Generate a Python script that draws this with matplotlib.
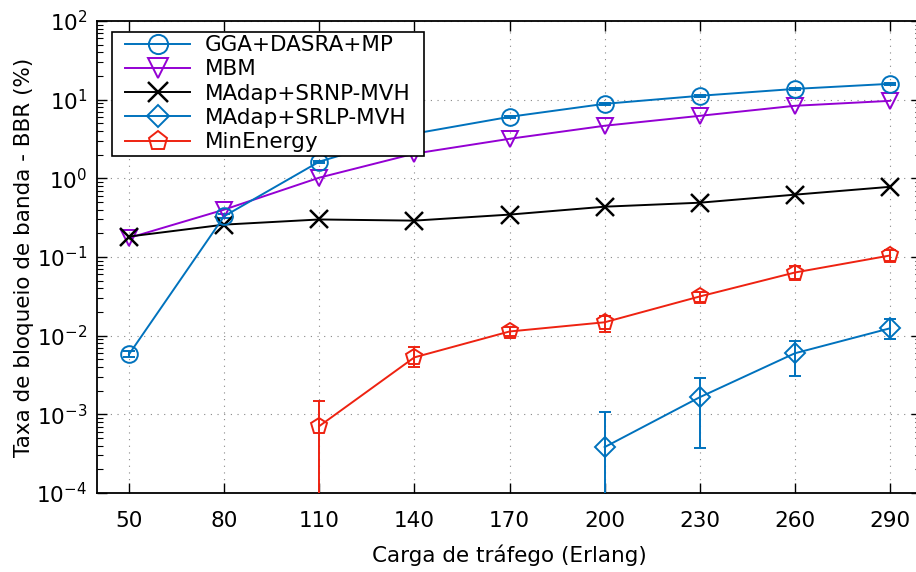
import numpy as np
import matplotlib
matplotlib.use("Agg")
import matplotlib.pyplot as plt
from matplotlib.lines import Line2D
from matplotlib.patches import Rectangle
from matplotlib.legend_handler import HandlerLine2D
from matplotlib.ticker import LogLocator, FixedLocator, NullFormatter

# Traffic load (Erlang)
load = [50, 80, 110, 140, 170, 200, 230, 260, 290]

# Bandwidth blocking ratio (%) per algorithm
gga = [0.0058, 0.33, 1.63, 3.7, 6.05, 8.85, 11.2, 13.7, 15.9]
gga_lo = [0.0053, 0.31, 1.58, 3.6, 5.9, 8.6, 10.9, 13.3, 15.5]
gga_hi = [0.0064, 0.35, 1.68, 3.8, 6.2, 9.1, 11.5, 14.1, 16.3]

mbm = [0.175, 0.40, 1.02, 2.06, 3.18, 4.66, 6.23, 8.36, 9.66]

srnp = [0.182, 0.258, 0.30, 0.29, 0.346, 0.436, 0.49, 0.62, 0.78]

srlp_load = [200, 230, 260, 290]
srlp = [3.83e-4, 1.65e-3, 5.97e-3, 0.0124]
srlp_lo = [1e-6, 3.7e-4, 3.05e-3, 0.0092]
srlp_hi = [1.06e-3, 2.88e-3, 8.5e-3, 0.0161]

minen_load = [110, 140, 170, 200, 230, 260, 290]
minen = [7.08e-4, 5.3e-3, 0.0113, 0.0148, 0.0315, 0.0635, 0.1045]
minen_lo = [1e-6, 3.98e-3, 0.0098, 0.011, 0.027, 0.053, 0.09]
minen_hi = [1.47e-3, 7.1e-3, 0.0128, 0.0176, 0.036, 0.076, 0.122]

labels = ["GGA+DASRA+MP", "MBM", "MAdap+SRNP-MVH", "MAdap+SRLP-MVH", "MinEnergy"]

BLUE = "#0072BD"
PURPLE = "#9400D3"
RED = "#EE2211"
BLACK = "#000000"

plt.rcParams["font.family"] = ["DejaVu Sans"]
plt.rcParams["mathtext.fontset"] = "dejavusans"

FS = 15.5
W, H = 916, 572
fig = plt.figure(figsize=(W / 100, H / 100), dpi=100)
left, right, top, bottom = 97, 921, 21, 493
ax = fig.add_axes([left / W, 1 - bottom / H, (right - left) / W, (bottom - top) / H])

lw = 1.4
mew = 1.4
ms = 12
cap = 4

styles = [
    dict(color=BLUE, marker="o", ms=ms, mew=mew),
    dict(color=PURPLE, marker="v", ms=ms, mew=mew),
    dict(color=BLACK, marker="x", ms=ms + 1, mew=mew + 0.4),
    dict(color=BLUE, marker="D", ms=ms - 2, mew=mew),
    dict(color=RED, marker="p", ms=ms, mew=mew),
]


def errs(v, lo, hi):
    v = np.asarray(v)
    return np.vstack([v - np.asarray(lo), np.asarray(hi) - v])


eb = dict(capsize=cap, elinewidth=lw, capthick=lw, mfc="none", lw=lw, zorder=3)
ax.errorbar(load, gga, yerr=errs(gga, gga_lo, gga_hi), **styles[0], **eb)
ax.plot(load, mbm, mfc="none", lw=lw, zorder=3, **styles[1])
ax.plot(load, srnp, lw=lw, zorder=3, **styles[2])
ax.errorbar(srlp_load, srlp, yerr=errs(srlp, srlp_lo, srlp_hi), **styles[3], **eb)
ax.errorbar(minen_load, minen, yerr=errs(minen, minen_lo, minen_hi), **styles[4], **eb)

ax.set_yscale("log")
ax.set_ylim(1e-4, 1e2)
ax.set_xlim(50 - 32 / 3.1667, 290 + 31 / 3.1667)

ax.xaxis.set_major_locator(FixedLocator(load))
ax.set_xticklabels([str(v) for v in load])
ax.set_yticks([10.0 ** k for k in range(-4, 3)])
ax.set_yticklabels([r"$10^{%d}$" % k for k in range(-4, 3)])
ax.yaxis.set_minor_locator(LogLocator(base=10, subs=np.arange(2, 10), numticks=20))
ax.yaxis.set_minor_formatter(NullFormatter())

ax.tick_params(which="both", direction="in", top=True, right=True, labelsize=FS)
ax.tick_params(which="major", length=7, width=1.0)
ax.tick_params(which="minor", length=4, width=0.8)
ax.tick_params(axis="x", pad=13)
ax.tick_params(axis="y", pad=7)

ax.grid(True, which="major", linestyle=(0, (1, 5)), color="#888888", lw=0.8)
for s in ax.spines.values():
    s.set_linewidth(1.3)

ax.set_xlabel("Carga de tráfego (Erlang)", fontsize=FS, labelpad=9.5)
ax.set_ylabel("Taxa de bloqueio de banda - BBR (%)", fontsize=FS, labelpad=2)

handles = [Line2D([], [], lw=lw, mfc="none", **st) for st in styles]
leg = ax.legend(handles, labels, loc="upper left", bbox_to_anchor=(0.018, 0.977),
                fontsize=FS, handlelength=3.5, frameon=False,
                borderpad=0.15, labelspacing=0.2, handletextpad=0.65,
                borderaxespad=0, markerscale=1.15,
                handler_map={Line2D: HandlerLine2D(xpad=0.47)})

# Legend frame with a wider horizontal margin than vertical
fig.canvas.draw()
bb = leg.get_window_extent().transformed(fig.transFigure.inverted())
extra = 11 / W
frame = Rectangle((bb.x0, bb.y0), bb.width + extra, bb.height,
                  transform=fig.transFigure, facecolor="white",
                  edgecolor="black", lw=1.2, zorder=4)
ax.add_artist(frame)
leg.set_zorder(5)

fig.savefig("out.png", dpi=100)
